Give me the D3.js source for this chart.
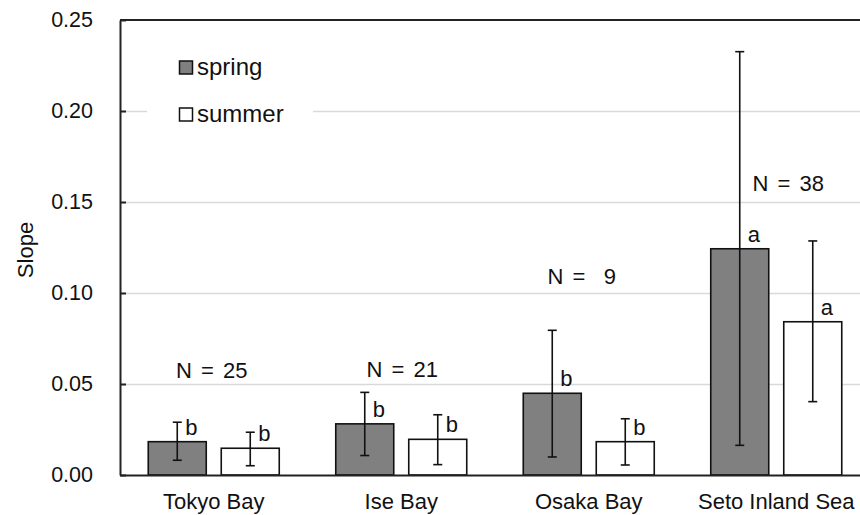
<!DOCTYPE html>
<html>
<head>
<meta charset="utf-8">
<script src="https://cdn.jsdelivr.net/npm/d3@7"></script>
<style>
  html, body { margin: 0; padding: 0; background: #fff; }
  svg { display: block; font-family: "Liberation Sans", Arial, sans-serif; }
</style>
</head>
<body>
<svg id="chart" width="860" height="515"></svg>
<script>
// Regional slope estimates by season (mean with error range and group letter)
const categories = ["Tokyo Bay", "Ise Bay", "Osaka Bay", "Seto Inland Sea"];
const seasons = ["spring", "summer"];

const springMean = [0.0183, 0.0281, 0.0449, 0.1243];
const springLow  = [0.0081, 0.0107, 0.0099, 0.0163];
const springHigh = [0.0290, 0.0454, 0.0795, 0.2326];
const springGroup = ["b", "b", "b", "a"];

const summerMean = [0.0147, 0.0196, 0.0183, 0.0842];
const summerLow  = [0.0051, 0.0057, 0.0055, 0.0403];
const summerHigh = [0.0235, 0.0331, 0.0309, 0.1286];
const summerGroup = ["b", "b", "b", "a"];

const sampleSizes = ["N = 25", "N = 21", "N =  9", "N = 38"];
const sampleLabelLevel = [0.0535, 0.0540, 0.1048, 0.1562];

const yTicks = [0.00, 0.05, 0.10, 0.15, 0.20, 0.25];

const seasonFill = { spring: "#808080", summer: "#ffffff" };

const rows = [];
categories.forEach((c, i) => {
  rows.push({ cat: c, season: "spring", mean: springMean[i], lo: springLow[i], hi: springHigh[i], grp: springGroup[i] });
  rows.push({ cat: c, season: "summer", mean: summerMean[i], lo: summerLow[i], hi: summerHigh[i], grp: summerGroup[i] });
});

const svg = d3.select("#chart");
const margin = { left: 120, top: 20, bottom: 40 };
const plotW = 750;
const H = 515;
const y0 = H - margin.bottom;

const x = d3.scaleBand().domain(categories).range([margin.left, margin.left + plotW]).paddingInner(0).paddingOuter(0);
const xs = d3.scaleBand().domain(seasons).range([0, x.bandwidth()]).paddingInner(0.2055).paddingOuter(0.387);
const y = d3.scaleLinear().domain([0, 0.25]).range([y0, margin.top]);

const ink = "#111";

// horizontal gridlines
svg.append("g")
  .attr("transform", `translate(${margin.left},0)`)
  .call(d3.axisRight(y).tickValues(yTicks.slice(1, -1)).tickSize(plotW).tickFormat(""))
  .call(g => g.select(".domain").remove())
  .call(g => g.selectAll("line").attr("stroke", "#d9d9d9").attr("stroke-width", 1.3));

// top border of the plot area
svg.append("line")
  .attr("x1", margin.left).attr("x2", margin.left + plotW)
  .attr("y1", y(0.25)).attr("y2", y(0.25))
  .attr("stroke", "#222").attr("stroke-width", 2);

// legend (white backing hides the gridline behind it)
const legend = svg.append("g");
legend.append("rect").attr("x", 147).attr("y", 48).attr("width", 166).attr("height", 84).attr("fill", "#fff");
seasons.forEach((s, i) => {
  const ly = 67.5 + i * 47;
  legend.append("rect")
    .attr("x", 179.5).attr("y", ly - 6.5).attr("width", 13).attr("height", 13)
    .attr("fill", seasonFill[s]).attr("stroke", ink).attr("stroke-width", 1.5);
  legend.append("text")
    .attr("x", 197).attr("y", ly + 7)
    .attr("font-size", 24).attr("fill", ink)
    .text(s);
});

// bars
svg.append("g").selectAll("rect")
  .data(rows).join("rect")
  .attr("x", d => x(d.cat) + xs(d.season))
  .attr("width", xs.bandwidth())
  .attr("y", d => y(d.mean))
  .attr("height", d => y(0) - y(d.mean))
  .attr("fill", d => seasonFill[d.season])
  .attr("stroke", ink).attr("stroke-width", 1.6);

// error bars
const eb = svg.append("g").attr("stroke", ink).attr("stroke-width", 1.6);
const cx = d => x(d.cat) + xs(d.season) + xs.bandwidth() / 2;
eb.selectAll("line.v").data(rows).join("line").attr("class", "v")
  .attr("x1", cx).attr("x2", cx).attr("y1", d => y(d.hi)).attr("y2", d => y(d.lo));
eb.selectAll("line.t").data(rows).join("line").attr("class", "t")
  .attr("x1", d => cx(d) - 4.5).attr("x2", d => cx(d) + 4.5).attr("y1", d => y(d.hi)).attr("y2", d => y(d.hi));
eb.selectAll("line.b").data(rows).join("line").attr("class", "b")
  .attr("x1", d => cx(d) - 4.5).attr("x2", d => cx(d) + 4.5).attr("y1", d => y(d.lo)).attr("y2", d => y(d.lo));

// group letters
svg.append("g").selectAll("text")
  .data(rows).join("text")
  .attr("x", d => cx(d) + 8)
  .attr("y", d => y(d.mean) - 7)
  .attr("font-size", 22).attr("fill", ink)
  .text(d => d.grp);

// sample size labels
const nOffset = [-2, 1, -7, 12];
svg.append("g").selectAll("text")
  .data(categories).join("text")
  .attr("x", (c, i) => x(c) + x.bandwidth() / 2 + nOffset[i])
  .attr("y", (c, i) => y(sampleLabelLevel[i]))
  .attr("text-anchor", "middle")
  .attr("font-size", 22).attr("fill", ink)
  .attr("word-spacing", 3)
  .style("white-space", "pre")
  .text((c, i) => sampleSizes[i]);

// y axis
svg.append("g")
  .attr("transform", `translate(${margin.left},0)`)
  .call(d3.axisLeft(y).tickValues(yTicks).tickFormat(d3.format(".2f")).tickSizeInner(-6).tickSizeOuter(0).tickPadding(27))
  .call(g => g.select(".domain").attr("stroke", "#222").attr("stroke-width", 2))
  .call(g => g.selectAll(".tick line").attr("stroke", "#222").attr("stroke-width", 2))
  .call(g => g.selectAll("text").attr("font-size", 21.5).attr("fill", ink).attr("font-family", "Liberation Sans, Arial, sans-serif"));

// x axis
svg.append("g")
  .attr("transform", `translate(0,${y0})`)
  .call(d3.axisBottom(x).tickSize(0).tickPadding(18))
  .call(g => g.select(".domain").attr("stroke", "#222").attr("stroke-width", 2))
  .call(g => g.selectAll("text").attr("font-size", 22).attr("fill", ink).attr("font-family", "Liberation Sans, Arial, sans-serif"));

// y axis title
svg.append("text")
  .attr("transform", `translate(33,250) rotate(-90)`)
  .attr("text-anchor", "middle")
  .attr("font-size", 22).attr("fill", ink)
  .text("Slope");
</script>
</body>
</html>
